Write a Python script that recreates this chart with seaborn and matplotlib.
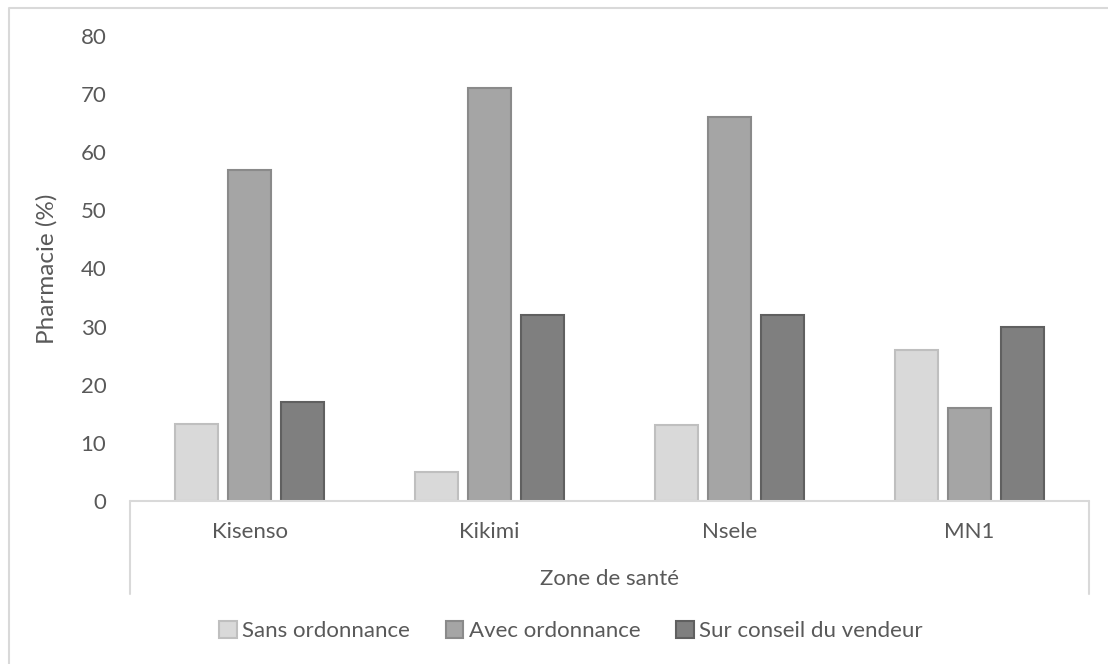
import numpy as np
import pandas as pd
import matplotlib
matplotlib.use("Agg")
import matplotlib.pyplot as plt
from matplotlib.lines import Line2D
from matplotlib.patches import Patch
import seaborn as sns

zones = ["Kisenso", "Kikimi", "Nsele", "MN1"]
series = ["Sans ordonnance", "Avec ordonnance", "Sur conseil du vendeur"]
sans_ordonnance = [13.3, 5, 13, 26]
avec_ordonnance = [57, 71, 66, 16]
sur_conseil = [17, 32, 32, 30]
yticks = [0, 10, 20, 30, 40, 50, 60, 70, 80]

df = pd.DataFrame({
    "Zone": zones * 3,
    "Type": [series[0]] * 4 + [series[1]] * 4 + [series[2]] * 4,
    "Pct": sans_ordonnance + avec_ordonnance + sur_conseil,
})

sns.set_theme(style="white")
plt.rcParams["font.family"] = ["Lato", "DejaVu Sans"]
TXT = "#595959"
LINE = "#D9D9D9"
FS = 16

faces = ["#D9D9D9", "#A5A5A5", "#7F7F7F"]
edges = ["#BFBFBF", "#8A8A8A", "#606060"]

W, H = 1108, 664
fig = plt.figure(figsize=(W / 100, H / 100), dpi=100)
x0, x1, y0, y1 = 130, 1089, 501, 36
ax = fig.add_axes([x0 / W, (H - y0) / H, (x1 - x0) / W, (y0 - y1) / H])

sns.barplot(data=df, x="Zone", y="Pct", hue="Type", order=zones, hue_order=series,
            palette=faces, width=0.663, gap=0.19, ax=ax, legend=False)

# outline each bar in a darker shade of its fill
for cont, ec in zip(ax.containers, edges):
    for bar in cont:
        bar.set_edgecolor(ec)
        bar.set_linewidth(1.5)

ax.set_ylim(0, 80)
ax.set_xlim(-0.5, 3.5)
ax.set_yticks(yticks)
ax.set_yticklabels([str(v) for v in yticks], fontsize=FS, color=TXT)
ax.tick_params(axis="y", length=0, pad=17)
ax.tick_params(axis="x", length=0, pad=15, labelsize=FS, labelcolor=TXT)
for s in ax.spines.values():
    s.set_visible(False)
ax.set_xlabel("")
ax.set_ylabel("Pharmacie (%)", fontsize=17.5, color=TXT)
ax.yaxis.set_label_coords((58 - x0) / (x1 - x0), 0.5)

# category axis frame: base line and the two side rules of the grouping box
def fx(px):
    return px / W

def fy(py):
    return (H - py) / H

fig.add_artist(Line2D([fx(x0), fx(x1)], [fy(y0), fy(y0)], color=LINE, lw=1.5))
fig.add_artist(Line2D([fx(x0), fx(x0)], [fy(y0), fy(594)], color=LINE, lw=1.5))
fig.add_artist(Line2D([fx(x1), fx(x1)], [fy(y0), fy(594)], color=LINE, lw=1.5))

fig.text(fx((x0 + x1) / 2), fy(579), "Zone de santé", fontsize=FS, color=TXT,
         ha="center", va="center")

# chart area border
fig.add_artist(Line2D([fx(9), fx(9), fx(1120)], [fy(680), fy(8), fy(8)],
                      color=LINE, lw=1.5))

handles = [Patch(facecolor=f, edgecolor=e, linewidth=1.5) for f, e in zip(faces, edges)]
fig.legend(handles, series, loc="center", bbox_to_anchor=(fx(571), fy(631)), ncol=3,
           frameon=False, fontsize=FS, labelcolor=TXT, handlelength=0.8,
           handleheight=0.8, handletextpad=0.25, columnspacing=1.6)

fig.savefig("out.png", dpi=100, facecolor="white")
